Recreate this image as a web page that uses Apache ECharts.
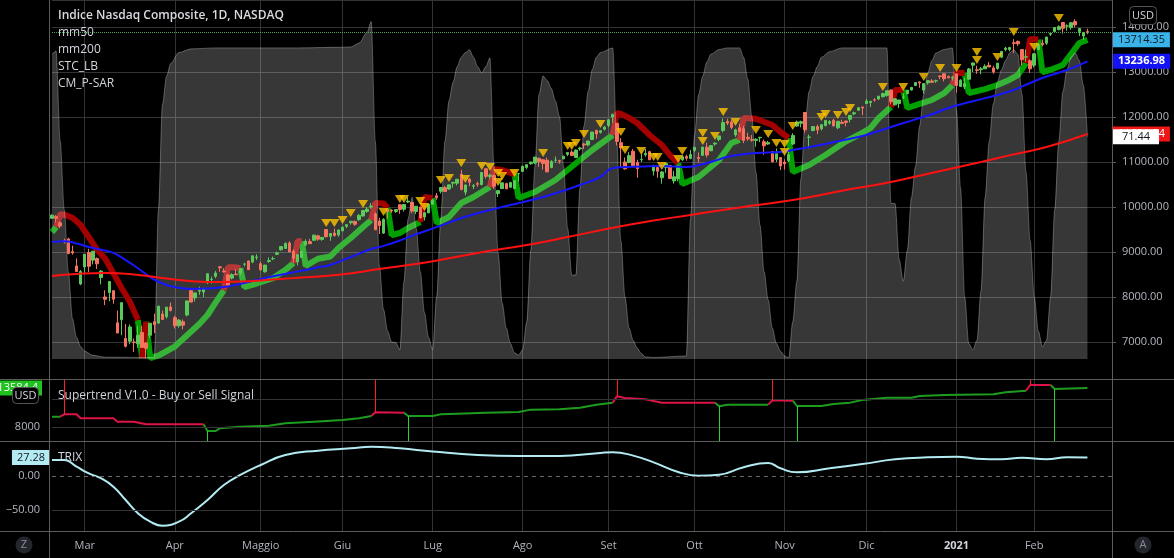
<!DOCTYPE html>
<html><head><meta charset="utf-8">
<script src="https://cdn.jsdelivr.net/npm/echarts@6/dist/echarts.min.js"></script>
<style>html,body{margin:0;padding:0;background:#000;}#c{width:1174px;height:558px;}</style>
</head><body><div id="c"></div>
<script>
// ---------- data ----------
const monthLabels = ['Mar','Apr','Maggio','Giu','Lug','Ago','Set','Ott','Nov','Dic','2021','Feb'];
const monthStart  = [8,30,51,71,93,115,136,157,179,199,221,240];
const slotCount = 260;
const priceTicksLabel = 'USD';

// daily candles [open, close, low, high], 19 Feb 2020 .. 19 Feb 2021
const candles = [
[9750,9817,9730,9838],[9786,9750,9655,9820],[9650,9577,9530,9680],[9255,9221,9190,9295],[9290,8966,8950,9320],[9010,8980,8940,9140],[8690,8566,8560,8860],[8290,8567,8264,8600],
[8667,8952,8510,8953],[8990,8684,8554,9070],[8819,9019,8724,9019],[8856,8738,8620,8880],[8433,8576,8280,8600],[8000,7950,7820,8150],[8100,8344,7904,8345],[8141,7952,7850,8142],[7426,7201,7194,7700],[7495,7875,7150,7875],[7080,6905,6880,7400],[7018,7335,6950,7390],[7000,6990,6780,7080],[6960,7151,6870,7360],[7210,6880,6870,7360],[6980,6861,6631,7000],[7150,7418,7090,7420],[7450,7385,7200,7630],[7420,7798,7410,7800],[7620,7502,7490,7700],[7560,7774,7520,7780],[7780,7700,7680,7880],
[7540,7361,7300,7580],[7360,7487,7320,7510],[7450,7373,7280,7500],[7600,7913,7570,7920],[8140,7887,7880,8150],[7980,8091,7900,8100],[8130,8153,8050,8230],[8110,8192,8000,8200],[8320,8516,8290,8530],[8390,8393,8300,8450],[8460,8532,8420,8580],[8670,8650,8560,8680],[8580,8561,8540,8640],[8490,8263,8240,8510],[8420,8495,8390,8530],[8510,8495,8490,8620],[8530,8634,8480,8640],[8730,8730,8680,8760],[8800,8608,8600,8810],[8780,8915,8750,8920],[8880,8890,8820,8950],
[8740,8605,8580,8790],[8560,8710,8540,8710],[8790,8810,8760,8880],[8850,8855,8820,8900],[8950,8980,8930,9010],[9050,9121,9030,9130],[9080,9193,9070,9210],[9200,9002,9000,9240],[9020,8863,8760,9060],[8780,8943,8700,8950],[8880,9015,8870,9020],[9160,9235,9130,9280],[9230,9185,9180,9290],[9260,9375,9260,9380],[9360,9285,9250,9380],[9280,9325,9250,9330],[9500,9340,9320,9500],[9350,9412,9250,9415],[9420,9369,9340,9520],[9380,9490,9340,9500],
[9470,9552,9460,9560],[9570,9608,9530,9610],[9650,9683,9610,9690],[9680,9616,9580,9700],[9720,9814,9690,9845],[9800,9924,9790,9925],[9900,9953,9870,10000],[10000,10020,9960,10087],[9850,9493,9490,9880],[9690,9589,9400,9760],[9420,9726,9400,9750],[9950,9895,9740,9960],[9930,9911,9870,9950],[9900,9943,9870,9950],[10050,9946,9850,10060],[9950,10056,9900,10060],[10110,10131,10090,10220],[10100,9909,9860,10120],[9900,10017,9840,10020],[10000,9757,9750,10000],[9780,9875,9700,9880],[9870,10059,9860,10075],
[10060,10155,10050,10180],[10250,10208,10160,10310],[10350,10434,10300,10440],[10430,10344,10340,10470],[10400,10492,10380,10495],[10530,10548,10430,10560],[10530,10617,10480,10620],[10730,10391,10370,10825],[10330,10489,10260,10500],[10620,10550,10460,10640],[10460,10474,10400,10510],[10520,10503,10450,10560],[10500,10767,10480,10770],[10850,10681,10630,10850],[10680,10706,10620,10740],[10700,10462,10400,10720],[10300,10363,10220,10380],[10410,10537,10400,10540],[10520,10403,10400,10540],[10440,10543,10430,10560],[10410,10588,10400,10600],[10740,10745,10560,10750],
[10790,10903,10780,10920],[10880,10941,10840,10945],[10960,10998,10940,11010],[10980,11109,10950,11110],[11080,11011,10890,11100],[11050,10968,10830,11060],[11040,10782,10770,11100],[10880,11012,10860,11040],[11040,11042,10990,11120],[11030,11019,10960,11050],[11070,11129,11060,11140],[11170,11210,11130,11210],[11220,11146,11130,11260],[11100,11265,11090,11280],[11290,11312,11250,11340],[11400,11380,11290,11420],[11380,11466,11350,11470],[11500,11665,11490,11670],[11700,11625,11520,11720],[11660,11696,11630,11700],[11730,11775,11700,11800],
[11810,11939,11770,11945],[12000,12056,11870,12074],[11860,11458,11370,11860],[11430,11313,10876,11530],[11000,10848,10830,11100],[10990,11142,10970,11220],[11240,10919,10880,11290],[10990,10854,10650,11050],[11050,11057,11000,11170],[11160,11190,11120,11290],[11230,11050,11040,11250],[10800,10910,10700,10940],[10880,10794,10650,10900],[10650,10779,10520,10800],[10880,10964,10760,10970],[10920,10633,10620,10940],[10580,10672,10520,10800],[10630,10914,10570,10930],[11050,11118,11020,11140],[11120,11085,11030,11160],[11080,11168,11060,11270],
[11260,11327,11220,11330],[11100,11076,10990,11210],[11150,11332,11140,11340],[11330,11155,11100,11430],[11250,11365,11240,11370],[11400,11421,11360,11430],[11500,11580,11460,11580],[11700,11876,11660,11965],[11900,11864,11820,11960],[11890,11768,11730,11930],[11600,11714,11560,11740],[11760,11672,11670,11850],[11740,11479,11420,11800],[11550,11517,11470,11650],[11500,11485,11450,11600],[11480,11506,11340,11530],[11540,11548,11440,11560],[11450,11359,11160,11500],[11400,11431,11380,11470],[11230,11005,10990,11240],[11060,11186,11000,11300],[11100,10912,10820,11100],
[11000,10958,10830,11060],[11030,11161,11000,11230],[11400,11591,11380,11640],[11800,11891,11780,11920],[11860,11895,11770,11920],[12100,11714,11650,12110],[11550,11554,11300,11610],[11700,11787,11680,11800],[11790,11710,11620,11830],[11740,11830,11700,11840],[11810,11925,11790,11930],[11860,11900,11830,11930],[11930,11802,11790,11960],[11760,11905,11730,11910],[11880,11855,11850,11940],[11910,11881,11790,11920],[11950,12037,11880,12040],[12070,12094,12040,12120],[12150,12206,12140,12220],[12220,12199,12040,12230],
[12300,12355,12290,12400],[12320,12349,12220,12360],[12380,12377,12340,12420],[12400,12464,12380,12465],[12450,12520,12440,12540],[12480,12583,12450,12590],[12600,12339,12280,12610],[12270,12406,12260,12420],[12300,12378,12200,12380],[12440,12441,12400,12520],[12520,12595,12500,12600],[12600,12658,12590,12670],[12700,12765,12690,12770],[12780,12756,12650,12790],[12600,12743,12520,12750],[12760,12807,12720,12820],[12800,12771,12760,12840],[12800,12805,12760,12830],[12910,12900,12840,12930],[12960,12850,12790,12970],[12900,12870,12860,12920],[12870,12888,12810,12900],
[12960,12698,12540,12960],[12680,12819,12670,12840],[12670,12741,12620,12870],[12840,13067,12830,13090],[13150,13202,13000,13210],[13050,13036,12960,13140],[13050,13072,12950,13110],[13070,13128,13070,13170],[13150,13112,13110,13220],[13090,12998,12960,13140],[13080,13197,13050,13200],[13330,13457,13310,13460],[13500,13530,13460,13560],[13500,13543,13460,13560],[13650,13635,13420,13730],[13680,13626,13580,13700],[13500,13271,13150,13510],[13330,13337,13230,13500],[13250,13070,12980,13280],
[13150,13403,13100,13420],[13500,13612,13480,13620],[13640,13610,13570,13720],[13640,13777,13600,13780],[13840,13856,13800,13880],[13900,13987,13870,13990],[13940,14007,13930,14040],[14100,13972,13850,14100],[14020,14025,13920,14060],[13990,14095,13940,14100],[14120,14047,13990,14175],[13900,13965,13800,13970],[13800,13865,13710,13890],[13900,13874,13840,13960]
];

// mm50 / mm200 [dayIndex, value]
const mm50 = [[0,9222],[3,9240],[6,9190],[9,9111],[12,9050],[15,8980],[18,8820],[21,8640],[24,8444],[27,8300],[30,8222],[34,8178],[38,8190],[42,8222],[46,8290],[50,8378],[54,8460],[58,8533],[62,8600],[66,8680],[68,8711],[73,8889],[78,9067],[80,9111],[84,9222],[88,9360],[92,9489],[96,9620],[100,9756],[104,9860],[107,9933],[112,10044],[116,10130],[120,10222],[124,10333],[129,10489],[134,10667],[137,10867],[140,10889],[144,10900],[148,10911],[152,10900],[155,10889],[160,10978],[166,11133],[172,11200],[178,11222],[181,11267],[185,11330],[189,11400],[193,11480],[197,11556],[201,11660],[205,11778],[210,11920],[215,12060],[219,12200],[225,12350],[231,12489],[235,12600],[239,12756],[243,12900],[248,13044],[253,13236.98]];
const mm200 = [[0,8467],[6,8510],[13,8533],[20,8500],[29,8400],[38,8333],[46,8345],[54,8390],[62,8440],[70,8495],[80,8620],[92,8778],[104,8980],[116,9156],[126,9333],[138,9556],[147,9700],[156,9822],[168,9990],[181,10156],[193,10360],[205,10556],[216,10780],[227,11000],[235,11170],[243,11333],[253,11621.84]];

// STC_LB oscillator [dayIndex, value]
const stc = [[0,98],[1,99],[2,70],[3,48],[4,28],[5,13],[6,7],[7,4],[8,2.5],[10,1.2],[13,0.6],[25,0.5],[26,48],[27,82],[28,91],[29,95],[31,98.5],[34,99.7],[40,100],[60,100],[70,100.2],[73,100.3],[75,101.5],[77,105],[78,108.5],[79,70],[80,30],[81,16],[82,9],[83,5.5],[84,5.3],[85,3],[86,25],[87,45],[88,52],[89,42],[90,28],[91,15],[92,7],[93,3],[94,20],[95,45],[96,70],[97,83],[98,89],[99,94],[100,97],[101,98.5],[102,99.4],[103,97],[104,94],[105,92],[106,94],[107,96.8],[108,62],[109,34],[110,18],[111,10],[112,5],[113,2],[114,1.3],[115,3],[116,12],[117,35],[118,62],[119,85],[120,91],[121,89.5],[122,87],[123,83],[124,78],[125,62],[126,42],[127,27],[128,27],[129,55],[130,75],[131,86],[132,93],[133,97],[134,98.5],[137,100],[138,70],[139,38],[140,20],[141,10],[142,6],[143,3.5],[144,1.8],[145,0.7],[147,0.5],[155,1],[156,45],[157,72],[158,85],[159,91],[160,95.5],[161,98],[163,99.5],[165,100],[168,100],[169,97],[170,90],[171,78],[172,60],[173,43],[174,28],[175,19],[176,10],[177,5],[178,2.5],[179,1],[180,0.4],[181,12],[182,25],[183,58],[184,76],[185,86],[186,91],[187,94],[188,97],[190,98.8],[193,100],[204,100],[205,50],[206,50],[207,32],[208,25],[209,35],[210,52],[211,62],[212,75],[213,85],[214,92],[215,96],[216,98.4],[218,99.5],[220,100],[221,80],[222,55],[223,20],[224,5],[225,3],[226,6],[227,22],[228,52],[229,70],[230,82],[231,89],[232,93],[233,96],[234,98.4],[235,99.4],[236,98],[237,85],[238,60],[239,38],[240,20],[241,9],[242,4],[243,6],[244,20],[245,48],[246,70],[247,86],[248,93],[249,97],[250,98.4],[251,96],[252,88],[253,71.44]];

// CM_P-SAR trailing line [dayIndex, value, trend(+1 up / -1 down)]
const psar = [[0,9444,1],[1,9556,1],
[2,9840,-1],[3,9830,-1],[5,9760,-1],[7,9600,-1],[9,9330,-1],[11,9050,-1],[13,8850,-1],[15,8530,-1],[17,8200,-1],[19,7900,-1],[21,7490,-1],
[22,6640,1],[23,7450,-1],
[24,6640,1],[26,6700,1],[28,6800,1],[30,6900,1],[33,7150,1],[36,7400,1],[38,7600,1],[40,7880,1],[42,8150,1],
[43,8660,-1],[45,8660,-1],[46,8640,-1],
[47,8220,1],[50,8300,1],[54,8420,1],[57,8600,1],[59,8756,1],
[60,9244,-1],[61,9240,-1],
[62,8690,1],[65,8850,1],[68,8900,1],[70,9089,1],[73,9311,1],[76,9556,1],[78,9711,1],
[79,10089,-1],[81,10080,-1],[82,9978,-1],
[83,9378,1],[85,9422,1],[87,9533,1],[90,9667,1],
[91,10222,-1],[93,10200,-1],
[94,9644,1],[97,9778,1],[100,10089,1],[103,10222,1],[107,10444,1],
[108,10844,-1],[110,10820,-1],[113,10733,-1],
[114,10200,1],[118,10333,1],[123,10600,1],[126,10822,1],[129,11044,1],[132,11267,1],[137,11600,1],
[138,12089,-1],[139,12067,-1],[141,11980,-1],[143,11867,-1],[146,11600,-1],[149,11378,-1],[151,11150,-1],[153,10978,-1],
[154,10511,1],[158,10667,1],[163,11044,1],[166,11422,1],[168,11489,1],
[169,11978,-1],[172,11960,-1],[176,11822,-1],[178,11667,-1],[180,11533,-1],
[181,10778,1],[185,10933,1],[189,11156,1],[194,11460,1],[197,11600,1],[200,11756,1],[202,11978,1],[205,12222,1],
[206,12600,-1],[208,12600,-1],
[209,12200,1],[212,12290,1],[215,12378,1],[218,12530,1],[220,12711,1],
[221,12978,-1],[223,12978,-1],
[224,12533,1],[228,12620,1],[231,12711,1],[234,12830,1],[236,12933,1],[238,13200,1],
[239,13733,-1],[241,13720,-1],
[242,13000,1],[244,13050,1],[247,13156,1],[249,13400,1],[251,13644,1],[253,13714.35,1]];

// yellow signal triangles [dayIndex, value]
const triangles = [[67,9644],[69,9644],[71,9711],[73,9867],[76,10067],[81,9889],[85,10178],[86,10178],[90,10133],[91,10000],[95,10600],[97,10644],[100,10978],[101,10622],[105,10911],[107,10889],[109,10756],[110,10689],[109,10556],[113,10756],[120,11200],[126,11356],[127,11356],[128,11422],[130,11622],[134,11844],[139,11667],[140,11267],[144,11244],[147,11111],[148,11111],[149,10911],[153,11067],[154,11244],[159,11644],[159,11467],[162,11578],[164,12111],[167,11889],[172,11711],[175,11622],[177,11422],[179,11400],[179,11222],[181,11800],[188,12000],[189,12067],[192,12044],[194,12111],[195,12200],[203,12667],[208,12667],[213,12889],[217,13089],[221,13089],[226,13444],[226,13267],[231,13333],[235,13889],[240,13556],[246,14200]];

// Supertrend V1.0 [dayIndex, value, trend]
const superTrend = [[0,9470,1],[2,9470,1],
[3,9810,-1],[6,9810,-1],[7,9240,-1],[15,9240,-1],[16,8760,-1],[20,8760,-1],[23,8380,-1],[37,8380,-1],
[38,7430,1],[40,7430,1],[41,7810,1],[46,8050,1],[53,8190,1],[57,8520,1],[64,8760,1],[71,9000,1],[75,9240,1],[78,9570,1],
[79,10100,-1],[86,10050,-1],
[87,9570,1],[93,9570,1],[95,9810,1],[99,9900,1],[106,10050,1],[114,10140,1],[117,10480,1],[124,10530,1],[129,10760,1],[133,11190,1],[137,11470,1],
[138,12380,-1],[140,12140,-1],[145,11950,-1],[149,11470,-1],[162,11470,-1],
[163,10950,1],[165,11190,1],[175,11190,1],
[176,11810,-1],[181,11760,-1],
[182,11000,1],[188,11000,1],[191,11290,1],[195,11480,1],[198,11860,1],[204,12190,1],[210,12190,1],[212,12430,1],[218,12570,1],[230,12670,1],[233,12950,1],[238,13190,1],
[239,14000,-1],[244,14000,-1],
[245,13430,1],[253,13584.4,1]];
const superTrendGrid = [8000, 12000];

// TRIX [dayIndex, value]
const trix = [[0,23.5],[3,23.5],[6,13.7],[9,3.9],[12,-3.4],[15,-15.7],[18,-35.3],[21,-54.9],[24,-67.2],[27,-73],[31,-67.2],[34,-54.9],[38,-35.3],[42,-13.2],[46,1.5],[51,16.2],[57,30.9],[65,37.3],[73,40.7],[78,43.1],[85,40.7],[93,36],[104,31],[114,29.5],[124,29.5],[134,34],[137,35],[142,30],[147,20],[153,6],[158,0.5],[163,2],[169,13],[175,19],[178,11.3],[182,5.4],[190,11.3],[198,17.6],[206,24.5],[214,27.5],[221,28.4],[226,25.5],[232,24.5],[237,26.9],[243,24.5],[248,27.5],[253,27.28]];
const trixTicks = [0, -50];

// ---------- helpers ----------
const categories = Array.from({length: slotCount}, (_, i) => String(i));
const monthSet = new Set(monthStart);
const monthMap = {};
monthStart.forEach((s, k) => { monthMap[String(s)] = monthLabels[k]; });

function splitTrend(points) {
  const up = [], down = [];
  let prev = null;
  points.forEach(p => {
    const target = p[2] > 0 ? up : down;
    const other = p[2] > 0 ? down : up;
    if (prev && prev[2] !== p[2]) {
      other.push([p[0], null]);
      target.push([prev[0], prev[1]]);
    }
    target.push([p[0], p[1]]);
    prev = p;
  });
  return {up, down};
}
const psarParts = splitTrend(psar);
const stParts = splitTrend(superTrend);

const stMin = 6000, stMax = 14857;
const flipLinesUp = [], flipLinesDown = [];
superTrend.forEach((p, i) => {
  if (i > 0 && superTrend[i-1][2] !== p[2]) {
    if (p[2] > 0) flipLinesUp.push([{coord:[p[0], p[1]]}, {coord:[p[0], stMin]}]);
    else flipLinesDown.push([{coord:[p[0], p[1]]}, {coord:[p[0], stMax]}]);
  }
});

const FONT = 'Open Sans';
const gridColor = '#333336';
const sepColor = '#5c5c5c';
const CLEAR = 'rgba(0,0,0,0)';

function xAxis(gridIndex, showLabels) {
  return {
    type: 'category', gridIndex, data: categories, boundaryGap: false,
    axisLine: {show: false}, axisTick: {show: false},
    axisLabel: {
      show: showLabels, interval: (i) => monthSet.has(i), margin: 9,
      color: '#b2b5be', fontSize: 11, fontFamily: FONT,
      formatter: (v) => { const t = monthMap[v] || ''; return t === '2021' ? '{b|2021}' : t; },
      rich: {b: {fontWeight: 'bold', color: '#d1d4dc', fontSize: 11, fontFamily: FONT}}
    },
    splitLine: {show: true, interval: (i) => monthSet.has(i), lineStyle: {color: gridColor, width: 1}}
  };
}

// price tag attached to a series' last value
function tag(value, text, bg, fg, pos, opts) {
  const o = opts || {};
  return {
    yAxis: value,
    lineStyle: {color: CLEAR, width: 0},
    label: {show: true, position: pos, formatter: text, backgroundColor: bg, color: fg,
      fontSize: 11, fontFamily: FONT, fontWeight: o.bold ? 'bold' : 'normal',
      padding: o.padding || [2, 5, 2, 5], distance: o.distance == null ? 1 : o.distance}
  };
}

const lastClose = candles[candles.length - 1][1];
const lastPsar = psar[psar.length - 1][1];
const lastMm50 = mm50[mm50.length - 1][1];
const lastMm200 = mm200[mm200.length - 1][1];
const lastStc = stc[stc.length - 1][1];
const lastSt = superTrend[superTrend.length - 1][1];
const lastTrix = trix[trix.length - 1][1];

const option = {
  backgroundColor: '#000000',
  animation: false,
  grid: [
    {left: 52, right: 62, top: 0, height: 379},
    {left: 52, right: 62, top: 379, height: 62},
    {left: 52, right: 62, top: 441, height: 90}
  ],
  xAxis: [xAxis(0, false), xAxis(1, false), xAxis(2, true)],
  yAxis: [
    {type: 'value', gridIndex: 0, position: 'right', min: 6178, max: 14600, splitNumber: 8,
      axisLine: {show: true, lineStyle: {color: sepColor}},
      axisTick: {show: true, length: 4, lineStyle: {color: sepColor}},
      axisLabel: {color: '#b2b5be', fontSize: 11, fontFamily: FONT, margin: 10,
        showMinLabel: false, showMaxLabel: false, formatter: (v) => v.toFixed(2)},
      splitLine: {lineStyle: {color: gridColor}}},
    {type: 'value', gridIndex: 0, min: -6.4, max: 115.4, show: false},
    {type: 'value', gridIndex: 1, position: 'left', min: stMin, max: stMax, interval: 2000,
      axisLine: {show: false}, axisTick: {show: false}, splitLine: {show: false},
      axisLabel: {color: '#b2b5be', fontSize: 11, fontFamily: FONT, margin: 12,
        formatter: (v) => v === 8000 ? '8000' : ''}},
    {type: 'value', gridIndex: 2, min: -80.9, max: 51.5, show: false}
  ],
  series: [
    {type: 'line', name: 'psarUp', xAxisIndex: 0, yAxisIndex: 0, data: psarParts.up, z: 1,
      symbol: 'none', connectNulls: false, lineStyle: {color: '#00a000', width: 6}, itemStyle: {color: '#00a000'},
      markLine: {symbol: ['none','none'], silent: true,
        data: [tag(lastPsar, lastPsar.toFixed(2), '#3ab4e8', '#131722', 'end')]}},
    {type: 'line', name: 'psarDown', xAxisIndex: 0, yAxisIndex: 0, data: psarParts.down, z: 1,
      symbol: 'none', connectNulls: false, lineStyle: {color: '#a30000', width: 6}},
    {type: 'line', name: 'stc', xAxisIndex: 0, yAxisIndex: 1, data: stc, z: 2,
      symbol: 'none', smooth: 0.3, smoothMonotone: 'x',
      lineStyle: {color: 'rgba(255,255,255,0.28)', width: 1},
      areaStyle: {color: 'rgba(255,255,255,0.31)'}},
    {type: 'candlestick', name: 'price', xAxisIndex: 0, yAxisIndex: 0, data: candles, z: 3, barWidth: 3, clip: false,
      itemStyle: {color: '#5acb5a', color0: '#f7735f', borderColor: '#5acb5a', borderColor0: '#f7735f', borderWidth: 1},
      markLine: {symbol: ['none','none'], silent: true, label: {show: false},
        data: [{yAxis: lastClose, lineStyle: {type: 'dotted', color: '#43a857', width: 1}}]}},
    {type: 'line', name: 'mm50', xAxisIndex: 0, yAxisIndex: 0, data: mm50, z: 4,
      symbol: 'none', smooth: true, lineStyle: {color: '#1717ff', width: 2},
      markLine: {symbol: ['none','none'], silent: true,
        data: [tag(lastMm50, lastMm50.toFixed(2), '#1212f5', '#ffffff', 'end', {bold: true})]}},
    {type: 'line', name: 'mm200', xAxisIndex: 0, yAxisIndex: 0, data: mm200, z: 4,
      symbol: 'none', smooth: true, lineStyle: {color: '#ff1111', width: 2},
      markLine: {symbol: ['none','none'], silent: true,
        data: [tag(lastMm200, lastMm200.toFixed(2), '#f21515', '#ffffff', 'end')]}},
    {type: 'scatter', name: 'signals', xAxisIndex: 0, yAxisIndex: 0, data: triangles, z: 5,
      symbol: 'triangle', symbolRotate: 180, symbolSize: [10, 8],
      itemStyle: {color: '#ffc400', borderWidth: 0}},
    {type: 'line', name: 'stcTag', xAxisIndex: 0, yAxisIndex: 1, data: [[253, lastStc]], z: 8,
      symbol: 'none', lineStyle: {color: CLEAR, width: 0},
      markLine: {symbol: ['none','none'], silent: true,
        data: [tag(lastStc, lastStc.toFixed(2), '#ffffff', '#131722', 'end', {padding: [2, 9, 2, 9]})]}},
    // supertrend pane
    {type: 'line', name: 'stGrid', xAxisIndex: 1, yAxisIndex: 2, data: [[0, lastSt]], z: 0,
      symbol: 'none', lineStyle: {color: CLEAR, width: 0},
      markLine: {symbol: ['none','none'], silent: true, label: {show: false},
        data: superTrendGrid.map(v => ({yAxis: v, lineStyle: {color: gridColor, type: 'solid', width: 1}}))}},
    {type: 'line', name: 'stUp', xAxisIndex: 1, yAxisIndex: 2, data: stParts.up, z: 2,
      symbol: 'none', connectNulls: false, lineStyle: {color: '#1e9c1e', width: 2},
      markLine: {symbol: ['none','none'], silent: true,
        data: flipLinesUp.map(l => [Object.assign({lineStyle: {color: '#2bd42b', width: 1, type: 'solid'}, label: {show: false}}, l[0]), l[1]])
          .concat([tag(lastSt, lastSt.toFixed(1), '#1fc21f', '#ffffff', 'start', {padding: [2, 4, 2, 4], distance: 10})])}},
    {type: 'line', name: 'stDown', xAxisIndex: 1, yAxisIndex: 2, data: stParts.down, z: 2,
      symbol: 'none', connectNulls: false, lineStyle: {color: '#dc1448', width: 2},
      markLine: {symbol: ['none','none'], silent: true, label: {show: false},
        data: flipLinesDown.map(l => [Object.assign({lineStyle: {color: '#ff1f1f', width: 1, type: 'solid'}}, l[0]), l[1]])}},
    // TRIX pane
    {type: 'line', name: 'trix', xAxisIndex: 2, yAxisIndex: 3, data: trix, z: 2,
      symbol: 'none', smooth: true, lineStyle: {color: '#b2ebf2', width: 2},
      markLine: {symbol: ['none','none'], silent: true,
        data: trixTicks.map(v => ({yAxis: v,
          lineStyle: v === 0 ? {color: '#6a6a6a', type: [4, 4], width: 1} : {color: gridColor, type: 'solid', width: 1},
          label: {show: true, position: 'start', formatter: v === 0 ? '0.00' : '\u2212' + Math.abs(v).toFixed(2), color: '#b2b5be', fontSize: 11, fontFamily: FONT, distance: 12}}))
          .concat([tag(lastTrix, lastTrix.toFixed(2), '#b2ebf2', '#131722', 'start', {distance: 2})])}}
  ],
  graphic: [
    {type: 'line', z: 50, shape: {x1: 0, y1: 379.5, x2: 1174, y2: 379.5}, style: {stroke: sepColor, lineWidth: 1}},
    {type: 'line', z: 50, shape: {x1: 0, y1: 441.5, x2: 1174, y2: 441.5}, style: {stroke: sepColor, lineWidth: 1}},
    {type: 'line', z: 50, shape: {x1: 0, y1: 531.5, x2: 1174, y2: 531.5}, style: {stroke: sepColor, lineWidth: 1}},
    {type: 'line', z: 50, shape: {x1: 49.5, y1: 0, x2: 49.5, y2: 558}, style: {stroke: sepColor, lineWidth: 1}},
    {type: 'line', z: 50, shape: {x1: 1112.5, y1: 0, x2: 1112.5, y2: 558}, style: {stroke: sepColor, lineWidth: 1}},
    {type: 'text', z: 60, x: 58, y: 16, style: {text: 'Indice Nasdaq Composite, 1D, NASDAQ', fill: '#d9dae0', font: '600 12px "Open Sans"', verticalAlign: 'middle'}},
    {type: 'text', z: 60, x: 58, y: 33, style: {text: 'mm50', fill: '#d1d4dc', font: '12px "Open Sans"', verticalAlign: 'middle'}},
    {type: 'text', z: 60, x: 58, y: 50, style: {text: 'mm200', fill: '#d1d4dc', font: '12px "Open Sans"', verticalAlign: 'middle'}},
    {type: 'text', z: 60, x: 58, y: 67, style: {text: 'STC_LB', fill: '#d1d4dc', font: '12px "Open Sans"', verticalAlign: 'middle'}},
    {type: 'text', z: 60, x: 58, y: 84, style: {text: 'CM_P-SAR', fill: '#d1d4dc', font: '12px "Open Sans"', verticalAlign: 'middle'}},
    {type: 'text', z: 60, x: 58, y: 396, style: {text: 'Supertrend V1.0 - Buy or Sell Signal', fill: '#d1d4dc', font: '12px "Open Sans"', verticalAlign: 'middle'}},
    {type: 'text', z: 60, x: 58, y: 458, style: {text: 'TRIX', fill: '#d1d4dc', font: '12px "Open Sans"', verticalAlign: 'middle'}},
    {type: 'rect', z: 70, shape: {x: 1129.5, y: 6.5, width: 27, height: 18, r: 4}, style: {fill: '#000', stroke: '#555', lineWidth: 1}},
    {type: 'text', z: 71, x: 1143, y: 16, style: {text: priceTicksLabel, fill: '#d1d4dc', font: '11px "Open Sans"', align: 'center', verticalAlign: 'middle'}},
    {type: 'rect', z: 70, shape: {x: 12.5, y: 387.5, width: 26, height: 16, r: 4}, style: {fill: '#000', stroke: '#555', lineWidth: 1}},
    {type: 'text', z: 71, x: 25.5, y: 396, style: {text: priceTicksLabel, fill: '#d1d4dc', font: '11px "Open Sans"', align: 'center', verticalAlign: 'middle'}},
    {type: 'circle', z: 70, shape: {cx: 24, cy: 545, r: 8.5}, style: {fill: '#24262d'}},
    {type: 'text', z: 71, x: 24, y: 545, style: {text: 'Z', fill: '#8b8e96', font: '11px "Open Sans"', align: 'center', verticalAlign: 'middle'}},
    {type: 'circle', z: 70, shape: {cx: 1143, cy: 545, r: 8.5}, style: {fill: '#24262d'}},
    {type: 'text', z: 71, x: 1143, y: 545, style: {text: 'A', fill: '#8b8e96', font: '11px "Open Sans"', align: 'center', verticalAlign: 'middle'}}
  ]
};
const chart = echarts.init(document.getElementById('c'));
chart.setOption(option);
</script></body></html>
